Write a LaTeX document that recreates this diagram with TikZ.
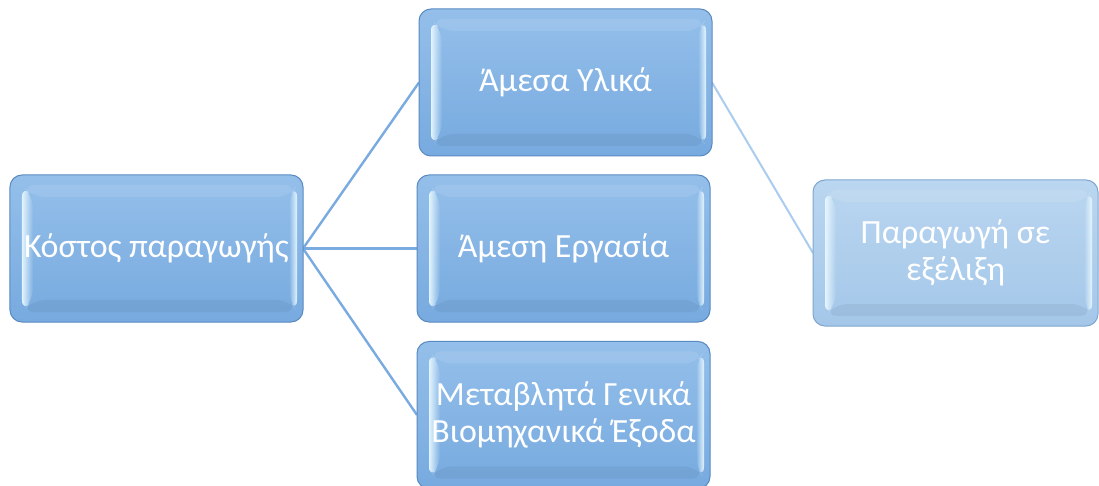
\documentclass[tikz,border=0pt]{standalone}
\usepackage{fontspec}
\setmainfont{Carlito}
\usetikzlibrary{calc,fadings}

\definecolor{boxtop}{HTML}{94BFEA}
\definecolor{boxbot}{HTML}{77AADF}
\definecolor{boxedge}{HTML}{5A8AC2}
\definecolor{paletop}{HTML}{BAD6F0}
\definecolor{palebot}{HTML}{A4C7E9}
\definecolor{paleedge}{HTML}{7FA6D0}
\definecolor{bevlight}{HTML}{E8F8FF}
\definecolor{linkblue}{HTML}{79ABE0}
\definecolor{linkpale}{HTML}{AACCEE}

% bevelled glass faces inside a rounded box (y axis points down)
\newcommand\bevelfaces{%
  \coordinate (pnw) at (path picture bounding box.north west);
  \coordinate (pne) at (path picture bounding box.north east);
  \coordinate (pse) at (path picture bounding box.south east);
  \coordinate (psw) at (path picture bounding box.south west);
  \coordinate (oA) at ($(pnw)+(12,10)$);
  \coordinate (oB) at ($(pne)+(-6,10)$);
  \coordinate (oC) at ($(pse)+(-6,-10)$);
  \coordinate (oD) at ($(psw)+(12,-10)$);
  \coordinate (iA) at ($(pnw)+(23,22)$);
  \coordinate (iB) at ($(pne)+(-14,22)$);
  \coordinate (iC) at ($(pse)+(-14,-22)$);
  \coordinate (iD) at ($(psw)+(23,-22)$);
  \fill[white, fill opacity=.10] (oA) -- (oB) -- (iB) -- (iA) -- cycle;
  \fill[black, fill opacity=.05] (oD) -- (oC) -- (iC) -- (iD) -- cycle;
  \fill[bevlight, path fading=east, fill opacity=.95] (oA) -- (iA) -- (iD) -- (oD) -- cycle;
  \fill[bevlight, path fading=west, fill opacity=.95] (oB) -- (iB) -- (iC) -- (oC) -- cycle;
}

\tikzset{
  stagebox/.style={rounded corners=12bp, draw=boxedge, line width=1bp,
    top color=boxtop, bottom color=boxbot, text=white,
    font=\fontsize{34}{37}\selectfont, align=center, inner sep=0pt,
    minimum width=293bp, minimum height=147bp,
    path picture={\bevelfaces}},
  palebox/.style={stagebox, draw=paleedge, top color=paletop, bottom color=palebot},
  link/.style={draw=linkblue, line width=2.4bp},
  palelink/.style={draw=linkpale, line width=2bp},
}

\begin{document}
\begin{tikzpicture}[x=1bp,y=-1bp]
  \clip (0,0) rectangle (1099,486);
  \fill[white] (0,0) rectangle (1099,486);

  % connectors first, boxes on top
  \coordinate (kE) at (303,248.5);
  \coordinate (aW) at (419,82.5);
  \coordinate (eW) at (417,248.5);
  \coordinate (mW) at (417,415);
  \coordinate (aE) at (712,82.5);
  \coordinate (pW) at (813,253);
  \draw[link] (kE) -- (aW);
  \draw[link] (kE) -- (eW);
  \draw[link] (kE) -- (mW);
  \draw[palelink] (aE) -- (pW);

  \node[stagebox] (kostos) at (156.5,248.5) {Κόστος παραγωγής};
  \node[stagebox] (ylika) at (565.5,82.5) {Άμεσα Υλικά};
  \node[stagebox] (ergasia) at (563.5,248.5) {Άμεση Εργασία};
  \node[stagebox] (exoda) at (563.5,415) {Μεταβλητά Γενικά\\Βιομηχανικά Έξοδα};
  \node[palebox, minimum width=285bp, minimum height=146bp] (exelixi) at (955.5,253) {Παραγωγή σε\\εξέλιξη};
\end{tikzpicture}
\end{document}
